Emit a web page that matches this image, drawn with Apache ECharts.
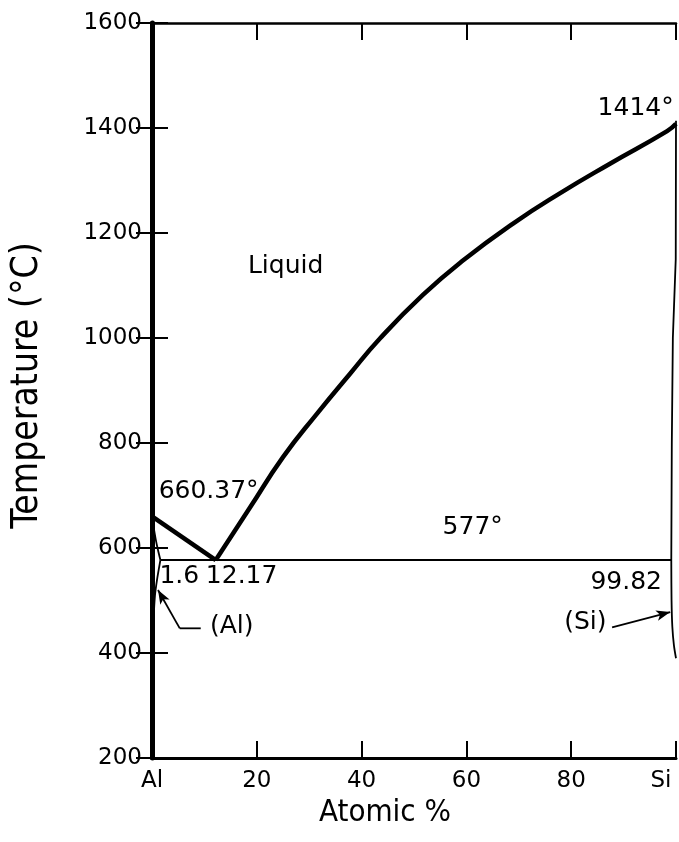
<!DOCTYPE html>
<html>
<head>
<meta charset="utf-8">
<script src="https://cdn.jsdelivr.net/npm/echarts@6/dist/echarts.min.js"></script>
<style>
html,body{margin:0;padding:0;background:#fff;overflow:hidden;}
#chart{width:679px;height:842px;}
</style>
</head>
<body>
<div id="chart"></div>
<script>
// ---- data ----
var xTicks = [0, 20, 40, 60, 80, 100];
var xTickLabels = ['Al', '20', '40', '60', '80', 'Si'];
var yTicks = [200, 400, 600, 800, 1000, 1200, 1400, 1600];

// liquidus, Al side (at.% Si, °C)
var liqAlX = [0, 12.17];
var liqAlT = [660.37, 577];
// liquidus, Si side
var liqSiX = [12.17, 18.7, 25.0, 31.5, 37.8, 43.5, 51.7, 59.4, 68.9, 77.9, 87.4, 98.3, 100];
var liqSiT = [577, 677, 773, 856, 932, 999, 1082, 1148, 1218, 1276, 1332, 1394, 1408];
// eutectic isotherm
var eutX = [1.6, 99.1];
var eutT = [577, 577];
// (Al) solidus
var solAlX = [0, 0.3, 0.7, 1.1, 1.6];
var solAlT = [660.37, 640, 617, 598, 577];
// (Al) solvus
var svAlX = [1.6, 0.95, 0.57, 0.3, 0.1, 0];
var svAlT = [577, 539, 510, 462, 386, 310];
// (Si) solidus
var solSiX = [100, 99.95, 99.4, 99.2, 99.1];
var solSiT = [1414, 1150, 1000, 800, 577];
// (Si) solvus
var svSiX = [99.1, 99.15, 99.3, 99.6, 100];
var svSiT = [577, 500, 450, 415, 390];

// annotations
var noteText = ['Liquid', '660.37°', '577°', '1414°', '1.6', '12.17', '99.82', '(Al)', '(Si)'];
var noteX = [25.6, 10.9, 61.3, 92.4, 5.3, 17.2, 90.6, 15.3, 82.8];
var noteT = [1136, 706, 639, 1436, 544, 544, 533, 449, 457];

// leader for (Al)
var leadAlX = [9.3, 5.3];
var leadAlT = [447, 447];
var arrAl = [[5.3, 447], [1.15, 520]];
var arrSi = [[87.8, 449], [98.9, 478]];

function pairs(xs, ys){ return xs.map(function(x,i){ return [x, ys[i]]; }); }

var FONT = "'DejaVu Sans', sans-serif";
var TITLE_FONT = "'DejaVu Sans Condensed', 'Liberation Sans Narrow', 'Liberation Sans', sans-serif";

function lineSeries(xs, ys, w, smooth){
  return {
    type: 'line', data: pairs(xs, ys), showSymbol: false, symbol: 'none',
    smooth: smooth ? smooth : false, silent: true,
    lineStyle: { color: '#000', width: w }, z: 5
  };
}

var chart = echarts.init(document.getElementById('chart'));
var option = {
  animation: false,
  backgroundColor: '#fff',
  grid: { left: 152, right: 3, top: 23, bottom: 84, containLabel: false, outerBoundsMode: 'none' },
  xAxis: [{
    type: 'value', min: 0, max: 100, interval: 20, position: 'bottom',
    axisLine: { show: true, lineStyle: { color: '#000', width: 3 } },
    axisTick: { show: true, inside: true, length: 17, lineStyle: { color: '#000', width: 2 } },
    splitLine: { show: false },
    axisLabel: {
      margin: 12, color: '#000', fontSize: 23, fontFamily: FONT,
      formatter: function(v){
        var i = xTicks.indexOf(v);
        if (i < 0) return '';
        if (v === 100) return '{si|' + xTickLabels[i] + '}';
        return xTickLabels[i];
      },
      rich: { si: { color: '#000', fontSize: 23, fontFamily: FONT, padding: [0, 30, 0, 0] } }
    },
    name: 'Atomic %', nameLocation: 'middle', nameGap: 38,
    nameTextStyle: { color: '#000', fontSize: 31, fontFamily: TITLE_FONT, padding: [0, 58, 0, 0] }
  }, {
    type: 'value', min: 0, max: 100, interval: 20, position: 'top',
    axisLine: { show: true, lineStyle: { color: '#000', width: 2.5 } },
    axisTick: { show: true, inside: true, length: 17, lineStyle: { color: '#000', width: 2 } },
    axisLabel: { show: false }, splitLine: { show: false }
  }],
  yAxis: [{
    type: 'value', min: 200, max: 1600, interval: 200, position: 'left',
    axisLine: { show: true, lineStyle: { color: '#000', width: 4 } },
    axisTick: { show: true, inside: true, length: 16, lineStyle: { color: '#000', width: 2 } },
    splitLine: { show: false },
    axisLabel: { margin: 10, color: '#000', fontSize: 23, fontFamily: FONT,
      formatter: function(v){ return yTicks.indexOf(v) >= 0 ? String(v) : ''; } },
    name: 'Temperature (°C)', nameLocation: 'middle', nameGap: 106,
    nameTextStyle: { color: '#000', fontSize: 37, fontFamily: TITLE_FONT, padding: [0, 0, 0, 10] }
  }, {
    type: 'value', min: 200, max: 1600, interval: 200, position: 'right',
    axisLine: { show: true, lineStyle: { color: '#000', width: 5 } },
    axisTick: { show: true, inside: true, length: 16, lineStyle: { color: '#000', width: 2 } },
    axisLabel: { show: false }, splitLine: { show: false }
  }],
  series: [
    lineSeries(liqAlX, liqAlT, 4.5, false),
    lineSeries(liqSiX, liqSiT, 4.5, 0.5),
    lineSeries(eutX, eutT, 2, false),
    lineSeries(solAlX, solAlT, 1.8, 0.3),
    lineSeries(svAlX, svAlT, 1.8, 0.3),
    lineSeries(solSiX, solSiT, 1.8, false),
    lineSeries(svSiX, svSiT, 1.8, 0.3),
    {
      type: 'line', data: pairs(leadAlX, leadAlT), showSymbol: false, symbol: 'none', silent: true,
      lineStyle: { color: '#000', width: 1.8 },
      markLine: {
        silent: true, symbol: ['none', 'arrow'], symbolSize: [8, 14],
        label: { show: false },
        lineStyle: { color: '#000', width: 1.8, type: 'solid' },
        data: [
          [{ coord: arrAl[0] }, { coord: arrAl[1] }],
          [{ coord: arrSi[0] }, { coord: arrSi[1] }]
        ]
      }
    },
    {
      type: 'scatter', symbolSize: 1, silent: true,
      itemStyle: { color: '#fff', opacity: 1 },
      data: noteText.map(function(t, i){ return { value: [noteX[i], noteT[i]], name: t }; }),
      label: {
        show: true, position: [0, 0], align: 'center', verticalAlign: 'middle',
        formatter: function(p){ return '{a|' + p.name + '}'; },
        rich: { a: { color: '#000', opacity: 1, fontSize: 25, fontFamily: FONT, textBorderWidth: 0 } }
      },
      z: 10
    }
  ]
};
chart.setOption(option);
</script>
</body>
</html>
